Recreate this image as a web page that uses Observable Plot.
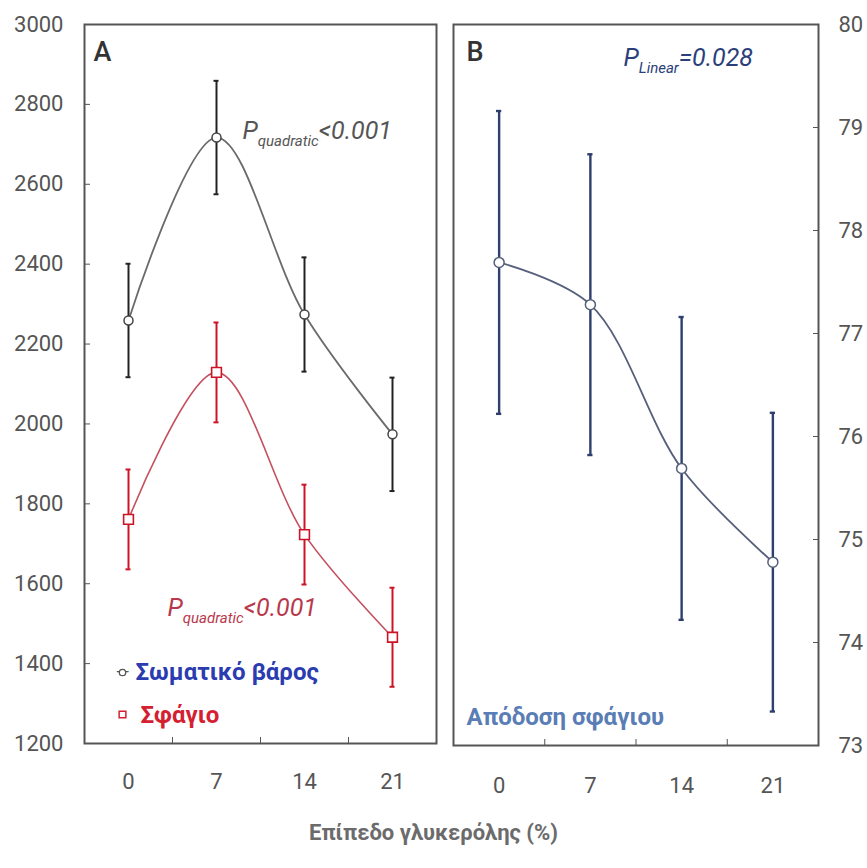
<!DOCTYPE html>
<html><head><meta charset="utf-8">
<script src="https://cdn.jsdelivr.net/npm/d3@7"></script>
<script src="https://cdn.jsdelivr.net/npm/@observablehq/plot@0.6"></script>
<style>
body{margin:0;background:#fff;}
#wrap{position:relative;width:867px;height:868px;font-family:Roboto,"Open Sans",sans-serif;}
#left{position:absolute;left:0;top:0;width:445px;}
#right{position:absolute;left:445px;top:0;width:422px;}
#xtitle{position:absolute;left:0;width:867px;top:820px;text-align:center;font-weight:bold;font-size:22px;color:#6b6b6b;}
</style></head><body>
<div id="wrap"><div id="left"></div><div id="right"></div><div id="xtitle">Επίπεδο γλυκερόλης (%)</div></div>
<script>
// ---- data ----
const glycerol = [0, 7, 14, 21];
const bodyWeight = [2259, 2717, 2274, 1974];
const bodyWeightErr = [142, 142, 143, 142];
const carcass = [1761, 2129, 1723, 1466];
const carcassErr = [125, 125, 125, 124];
const carcassYield = [77.69, 77.28, 75.69, 74.78];
const carcassYieldErr = [1.47, 1.46, 1.47, 1.45];
const leftTicks = [1200, 1400, 1600, 1800, 2000, 2200, 2400, 2600, 2800, 3000];
const rightTicks = [73, 74, 75, 76, 77, 78, 79, 80];
const legendBody = "Σωματικό βάρος";
const legendCarcass = "Σφάγιο";
const legendYield = "Απόδοση σφάγιου";

// ---- derived ----
const step = glycerol[1] - glycerol[0];
const xDomain = [glycerol[0] - step / 2, glycerol[glycerol.length - 1] + step / 2];
const bounds = glycerol.slice(1).map((g, i) => (g + glycerol[i]) / 2);
const mk = (vals, errs) => glycerol.map((g, i) => ({g, v: vals[i], e: errs[i]}));
const bw = mk(bodyWeight, bodyWeightErr);
const cc = mk(carcass, carcassErr);
const cy = mk(carcassYield, carcassYieldErr);
const cap = 0.2;

function errMarks(data, color, w) {
  return [
    Plot.ruleX(data, {x: "g", y1: d => d.v - d.e, y2: d => d.v + d.e, stroke: color, strokeWidth: w}),
    Plot.ruleY(data, {y: d => d.v + d.e, x1: d => d.g - cap, x2: d => d.g + cap, stroke: color, strokeWidth: w}),
    Plot.ruleY(data, {y: d => d.v - d.e, x1: d => d.g - cap, x2: d => d.g + cap, stroke: color, strokeWidth: w})
  ];
}

function subscript(svg, cls, main, sub, rest, subSize) {
  d3.select(svg).selectAll(`.${cls} text`).each(function () {
    const t = d3.select(this);
    t.text(null);
    t.append("tspan").text(main);
    t.append("tspan").attr("font-size", subSize).attr("dy", 7).text(sub);
    t.append("tspan").attr("dy", -7).text(rest);
  });
}

const baseStyle = {background: "transparent", fontFamily: "Roboto, 'Open Sans', sans-serif", overflow: "visible"};

// ---- left panel ----
const left = Plot.plot({
  width: 445, height: 800,
  marginLeft: 84, marginRight: 9, marginTop: 24, marginBottom: 57,
  style: baseStyle,
  x: {domain: xDomain, label: null},
  y: {domain: [leftTicks[0], leftTicks[leftTicks.length - 1]], label: null},
  marks: [
    Plot.axisY({ticks: leftTicks, label: null, tickSize: -6, tickPadding: 27, fontSize: 22, color: "#555", tickFormat: d => String(d)}),
    Plot.axisX({ticks: glycerol, label: null, tickSize: 0, tickPadding: 30, fontSize: 22, color: "#555", tickFormat: d => String(d)}),
    Plot.axisX({ticks: bounds, label: null, tickSize: -6, tickPadding: 0, color: "#555", tickFormat: () => ""}),
    Plot.line(bw, {x: "g", y: "v", curve: "catmull-rom", stroke: "#6a6a6a", strokeWidth: 1.8}),
    Plot.line(cc, {x: "g", y: "v", curve: "catmull-rom", stroke: "#c4505f", strokeWidth: 1.6}),
    ...errMarks(bw, "#222", 2),
    ...errMarks(cc, "#cc1426", 2),
    Plot.dot(bw, {x: "g", y: "v", r: 4.5, fill: "white", stroke: "#444", strokeWidth: 1.5}),
    Plot.dot(cc, {x: "g", y: "v", symbol: "square", r: 5.5, fill: "white", stroke: "#cc1426", strokeWidth: 1.6}),
    Plot.frame({stroke: "#555", strokeWidth: 2}),
    Plot.text(["A"], {frameAnchor: "top-left", dx: 9, dy: 28, lineAnchor: "middle", textAnchor: "start", fontSize: 27, fontWeight: 500, fill: "#333"}),
    Plot.text(["P"], {className: "pq1", frameAnchor: "top-left", dx: 158, dy: 114, lineAnchor: "bottom", textAnchor: "start", fontSize: 25, fontStyle: "italic", fill: "#555"}),
    Plot.text(["P"], {className: "pq2", frameAnchor: "top-left", dx: 83, dy: 591, lineAnchor: "bottom", textAnchor: "start", fontSize: 25, fontStyle: "italic", fill: "#b8384c"}),
    Plot.text(["—"], {frameAnchor: "top-left", dx: 38, dy: 648, lineAnchor: "middle", textAnchor: "middle", fontSize: 18, fill: "#555"}),
    Plot.dot([0], {frameAnchor: "top-left", dx: 38, dy: 648, r: 3.2, fill: "white", stroke: "#555", strokeWidth: 1.3}),
    Plot.text([legendBody], {frameAnchor: "top-left", dx: 51, dy: 648, lineAnchor: "middle", textAnchor: "start", fontSize: 24, fontWeight: "bold", fill: "#2a3cb0"}),
    Plot.dot([0], {frameAnchor: "top-left", dx: 38, dy: 690, symbol: "square", r: 3.8, fill: "white", stroke: "#d42030", strokeWidth: 1.5}),
    Plot.text([legendCarcass], {frameAnchor: "top-left", dx: 56, dy: 691, lineAnchor: "middle", textAnchor: "start", fontSize: 24, fontWeight: "bold", fill: "#d42030"})
  ]
});
subscript(left, "pq1", "P", "quadratic", "<0.001", 15);
subscript(left, "pq2", "P", "quadratic", "<0.001", 15);
document.getElementById("left").append(left);

// ---- right panel ----
const right = Plot.plot({
  width: 422, height: 800,
  marginLeft: 8, marginRight: 49, marginTop: 24, marginBottom: 55,
  style: baseStyle,
  x: {domain: xDomain, label: null},
  y: {domain: [rightTicks[0], rightTicks[rightTicks.length - 1]], label: null},
  marks: [
    Plot.axisY({anchor: "right", label: null, ticks: rightTicks, tickSize: -6, tickPadding: 26, fontSize: 22, color: "#555", tickFormat: d => String(d)}),
    Plot.axisX({ticks: glycerol, label: null, tickSize: 0, tickPadding: 32, fontSize: 22, color: "#555", tickFormat: d => String(d)}),
    Plot.axisX({ticks: bounds, label: null, tickSize: -6, tickPadding: 0, color: "#555", tickFormat: () => ""}),
    Plot.line(cy, {x: "g", y: "v", curve: "catmull-rom", stroke: "#56607a", strokeWidth: 1.8}),
    ...errMarks(cy, "#2e3f6e", 2.4),
    Plot.dot(cy, {x: "g", y: "v", r: 5, fill: "white", stroke: "#56607a", strokeWidth: 1.5}),
    Plot.frame({stroke: "#555", strokeWidth: 2}),
    Plot.text(["B"], {frameAnchor: "top-left", dx: 13, dy: 28, lineAnchor: "middle", textAnchor: "start", fontSize: 27, fontWeight: 500, fill: "#333"}),
    Plot.text(["P"], {className: "pl", frameAnchor: "top-left", dx: 170, dy: 41, lineAnchor: "bottom", textAnchor: "start", fontSize: 25, fontStyle: "italic", fill: "#2b3f7a"}),
    Plot.text([legendYield], {frameAnchor: "top-left", dx: 13, dy: 693, lineAnchor: "middle", textAnchor: "start", fontSize: 24, fontWeight: "bold", fill: "#5a7db5"})
  ]
});
subscript(right, "pl", "P", "Linear", "=0.028", 15);
document.getElementById("right").append(right);
</script>
</body></html>
